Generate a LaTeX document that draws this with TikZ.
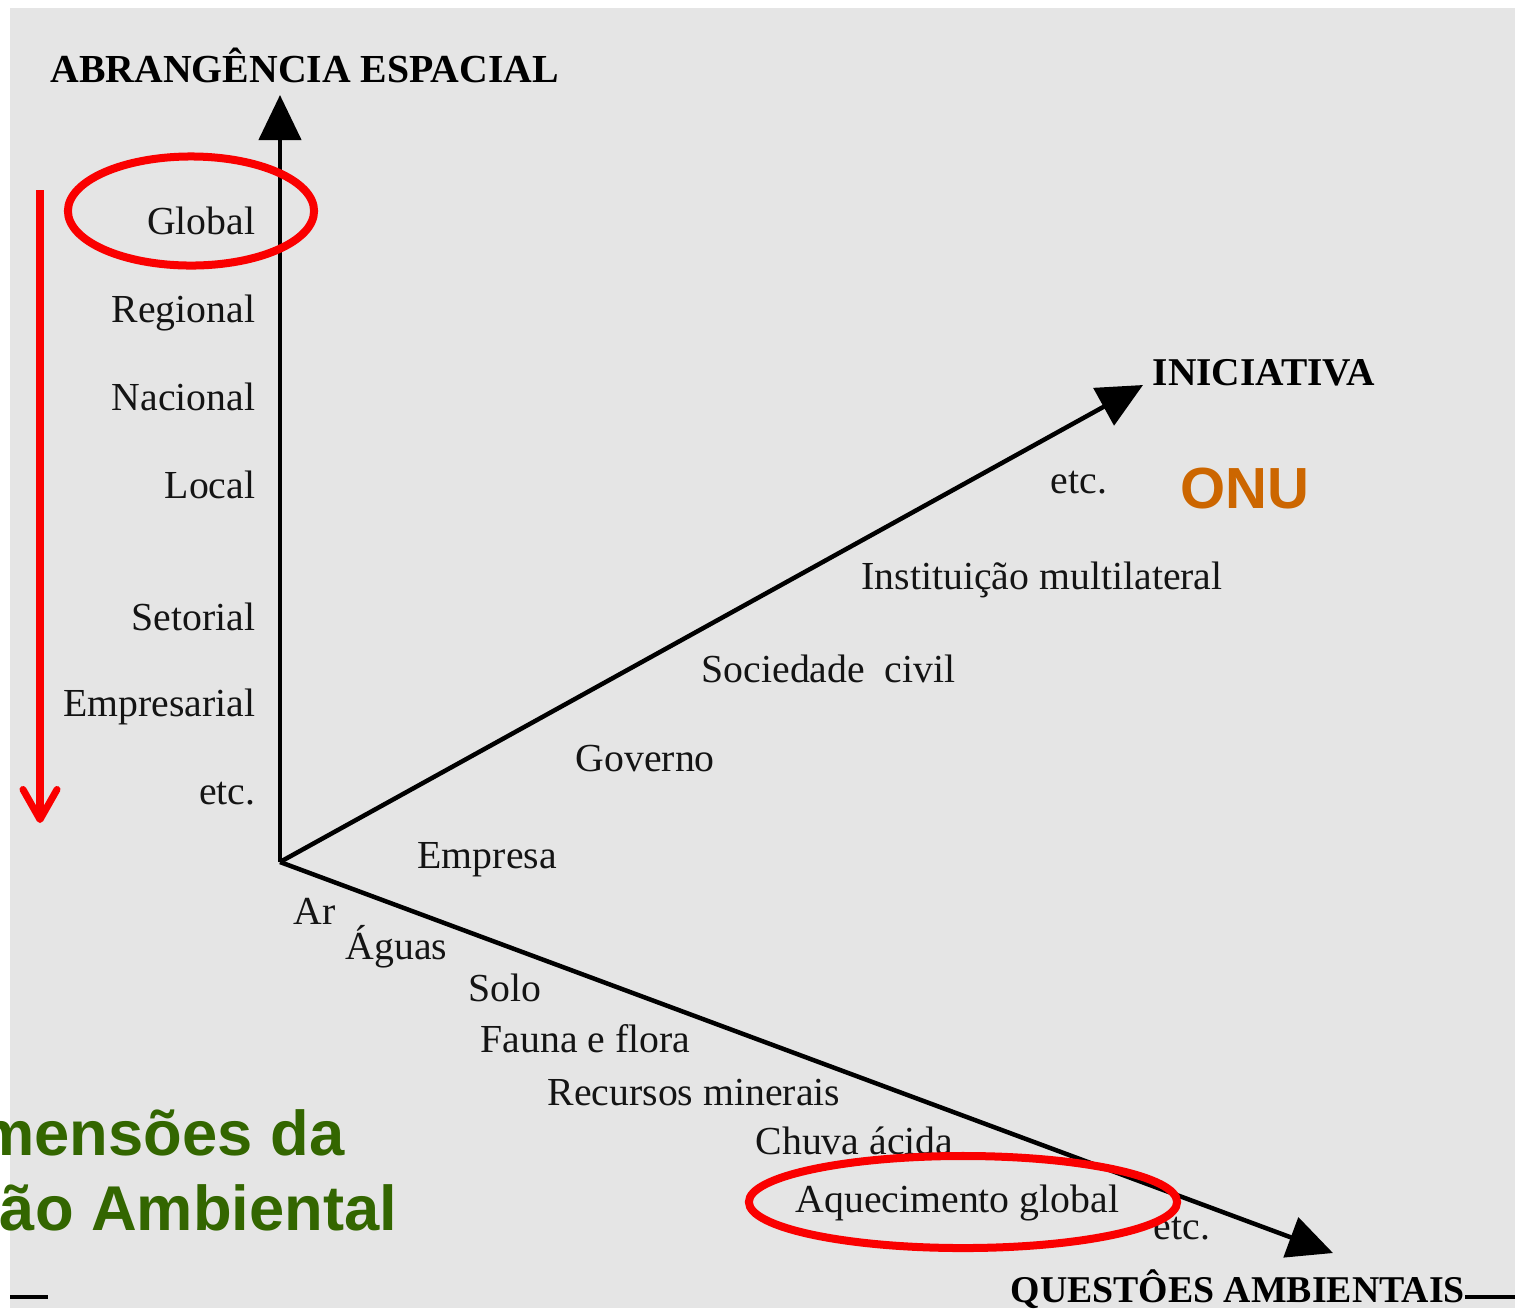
\documentclass[tikz,border=0pt]{standalone}
\usepackage{fontspec}
\setmainfont{Liberation Serif}
\newfontfamily\titlefont{Liberation Sans}
\usetikzlibrary{arrows.meta}
\definecolor{bggray}{RGB}{229,229,229}
\definecolor{ringred}{RGB}{250,0,0}
\definecolor{onuorange}{RGB}{204,102,0}
\definecolor{titlegreen}{RGB}{51,102,0}
\begin{document}
\begin{tikzpicture}[x=0.01cm,y=-0.01cm,
  lbl/.style={inner sep=0pt, anchor=base west, text=black!92, font=\fontsize{11.3}{13}\selectfont},
  lblr/.style={lbl, anchor=base east},
  head/.style={inner sep=0pt, anchor=base west, font=\fontsize{#1}{13}\selectfont\bfseries},
  axis/.style={line width=0.045cm, -{Triangle[length=0.45cm,width=0.42cm]}},
  ring/.style={draw=ringred, line width=0.08cm},
  redarrow/.style={draw=ringred, line width=0.07cm, -{Straight Barb[length=0.3cm,width=0.34cm,round]}},
  gtitle/.style={inner sep=0pt, anchor=base east, text=titlegreen, font=\titlefont\bfseries\fontsize{18}{20}\selectfont},
  onustyle/.style={inner sep=0pt, anchor=base west, text=onuorange, font=\titlefont\bfseries\fontsize{16.5}{18}\selectfont},
  edge/.style={line width=0.035cm}]
\useasboundingbox (0,0) rectangle (1515,1308);
\clip (0,0) rectangle (1515,1308);
\fill[white] (0,0) rectangle (1515,1308);
\fill[bggray] (10,8) rectangle (1515,1308);

% axes
\coordinate (O) at (280,862);
\coordinate (Vtip) at (280,95);
\coordinate (Itip) at (1143,385);
\coordinate (Qtip) at (1333,1253);
\draw[axis] (O) -- (Vtip);
\draw[axis] (O) -- (Itip);
\draw[axis] (O) -- (Qtip);

% headings
\node[head=11.3] (habr) at (50,82) {ABRANGÊNCIA ESPACIAL};
\node[head=11.2] (hini) at (1152,385) {INICIATIVA};
\node[head=10.75] (hque) at (1010,1302) {QUESTÔES AMBIENTAIS};

% vertical axis labels
\node[lblr] (global) at (256,234) {Global};
\node[lblr] (regional) at (256,322) {Regional};
\node[lblr] (nacional) at (256,410) {Nacional};
\node[lblr] (local) at (256,498) {Local};
\node[lblr] (setorial) at (256,630) {Setorial};
\node[lblr] (empresarial) at (256,716) {Empresarial};
\node[lblr] (etcv) at (256,804) {etc.};

% iniciativa labels
\node[lbl] (empresa) at (417,868) {Empresa};
\node[lbl] (governo) at (575,771) {Governo};
\node[lbl] (sociedade) at (701,682) {Sociedade~~civil};
\node[lbl] (instituicao) at (861,589) {Instituição multilateral};
\node[lbl] (etci) at (1050,493) {etc.};
\node[onustyle] (onu) at (1180,508) {ONU};

% questoes labels
\node[lbl] (ar) at (293,924) {Ar};
\node[lbl] (aguas) at (345,959) {Águas};
\node[lbl] (solo) at (468,1001) {Solo};
\node[lbl] (fauna) at (480,1052) {Fauna e flora};
\node[lbl] (recursos) at (547,1105) {Recursos minerais};
\node[lbl] (chuva) at (755,1154) {Chuva ácida};
\node[lbl] (aquec) at (795,1212) {Aquecimento global};
\node[lbl] (etcq) at (1153,1239) {etc.};

% red highlights
\draw[ring] (191,211) ellipse [x radius=1.23cm, y radius=0.545cm];
\draw[ring] (963,1202) ellipse [x radius=2.14cm, y radius=0.46cm];
\coordinate (rtop) at (40,190);
\coordinate (rbot) at (40,823);
\draw[redarrow] (rtop) -- (rbot);

% green title (cut by left edge, as in the reference)
\node[gtitle] (t1) at (345,1155) {Dimensões da};
\node[gtitle] (t2) at (398,1230) {Gestão Ambiental};

% bottom rules
\draw[edge] (10,1297) -- (48,1297);
\draw[edge] (1465,1297) -- (1515,1297);
\end{tikzpicture}
\end{document}
